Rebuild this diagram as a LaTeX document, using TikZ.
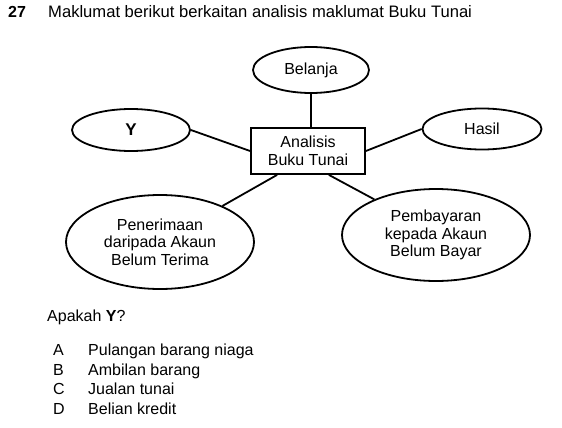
\documentclass[tikz,border=0pt]{standalone}
\usepackage{fontspec}
\setmainfont{Liberation Sans}
\usetikzlibrary{shapes.geometric, positioning, calc}

\begin{document}
\begin{tikzpicture}[x=1pt, y=-1pt,
    bubble/.style={draw, ellipse, line width=1.8pt, inner sep=0pt, align=center},
    box/.style={draw, rectangle, line width=1.8pt, inner sep=0pt, align=center},
    link/.style={line width=1.8pt},
    txt/.style={anchor=base west, inner sep=0pt}]
  \fontsize{16}{17.5}\selectfont
  \useasboundingbox (0,0) rectangle (562,428);

  % question
  \node[txt] (num) at (8,18) {\bfseries 27};
  \node[txt] (title) at (48,18) {\fontsize{16.6}{18}\selectfont Maklumat berikut berkaitan analisis maklumat Buku Tunai};

  % diagram
  \node[box, minimum width=114pt, minimum height=46pt] (ana) at (308,151) {Analisis\\Buku Tunai};
  \node[bubble, minimum width=116pt, minimum height=46pt] (bel) at (311,70) {Belanja};
  \node[bubble, minimum width=118pt, minimum height=42pt] (y) at (131,130) {\fontsize{17}{18}\selectfont\bfseries Y};
  \node[bubble, minimum width=119pt, minimum height=41pt] (has) at (482,129) {Hasil};
  \node[bubble, minimum width=188pt, minimum height=94pt] (pen) at (160,242) {Penerimaan\\daripada Akaun\\Belum Terima};
  \node[bubble, minimum width=188pt, minimum height=92pt] (pem) at (436,235) {Pembayaran\\kepada Akaun\\Belum Bayar};

  \draw[link] (bel.south) -- (bel.south |- ana.north);
  \draw[link] (y.east) -- (ana.west);
  \draw[link] (ana.east) -- (has.west);
  \draw[link] ([xshift=27pt]ana.south west) -- (pen.30);
  \draw[link] ([xshift=-37pt]ana.south east) -- (pem.150);

  % answers
  \node[txt] (ask) at (47,321) {Apakah \textbf{Y}?};
  \node[txt] (la) at (53,355.5) {A};
  \node[txt] (ta) at (88,355.5) {Pulangan barang niaga};
  \node[txt] (lb) at (53,375) {B};
  \node[txt] (tb) at (88,375) {Ambilan barang};
  \node[txt] (lc) at (53,394.5) {C};
  \node[txt] (tc) at (88,394.5) {Jualan tunai};
  \node[txt] (ld) at (53,414) {D};
  \node[txt] (td) at (88,414) {Belian kredit};
\end{tikzpicture}
\end{document}
